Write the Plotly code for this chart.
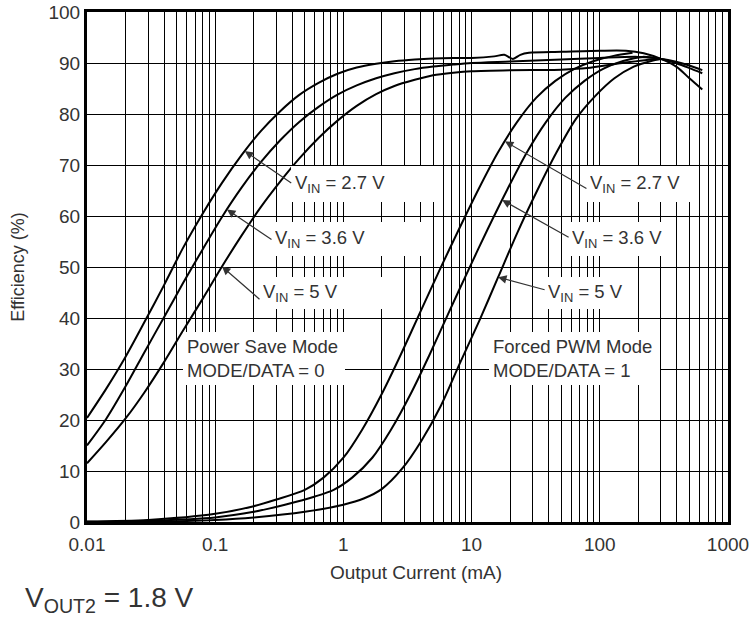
import numpy as np
import plotly.graph_objects as go

# ---------------- data ----------------
# Output current in mA, efficiency in %
# Power Save Mode (MODE/DATA = 0)
psm27_I = [0.01, 0.0141, 0.02, 0.0282, 0.04, 0.056, 0.08, 0.113, 0.16, 0.226, 0.32, 0.45, 0.64, 0.9,
           1.27, 1.8, 2.5, 3.6, 5, 7.2, 10, 15, 18, 21, 24, 28, 50, 100, 160, 220, 300, 400, 500, 630]
psm27_E = [20.4, 26.1, 32.4, 39.3, 46.5, 53.7, 60.5, 66.5, 71.9, 76.6, 80.5, 83.7, 86.1, 87.9,
           89.1, 89.85, 90.35, 90.7, 90.9, 91.0, 91.0, 91.3, 91.6, 90.8, 91.6, 92.0, 92.2, 92.4, 92.4, 91.9, 90.8, 89.2, 87.0, 84.8]

psm36_I = [0.01, 0.0141, 0.02, 0.0282, 0.04, 0.056, 0.08, 0.113, 0.16, 0.226, 0.32, 0.45, 0.64, 0.9,
           1.27, 1.8, 2.5, 3.6, 5, 7.2, 10, 20, 50, 100, 200, 300, 400, 500, 630]
psm36_E = [15, 20.2, 26.6, 33.4, 40.2, 46.8, 53.5, 59.8, 65.5, 70.5, 74.8, 78.4, 81.4, 83.8,
           85.6, 87.0, 88.0, 88.8, 89.3, 89.7, 90.0, 90.3, 90.7, 91.0, 91.2, 90.8, 89.9, 89.0, 88.0]

psm50_I = [0.01, 0.0141, 0.02, 0.0282, 0.04, 0.056, 0.08, 0.113, 0.16, 0.226, 0.32, 0.45, 0.64, 0.9,
           1.27, 1.8, 2.5, 3.6, 5, 7.2, 10, 20, 50, 80, 150, 300, 400, 500, 630]
psm50_E = [11.5, 15.7, 20.3, 25.5, 31.4, 37.5, 43.8, 50.1, 56.1, 61.7, 66.7, 71.2, 75.3, 78.7,
           81.6, 83.9, 85.5, 86.7, 87.6, 88.1, 88.4, 88.6, 88.7, 89.0, 90.0, 90.8, 90.2, 89.5, 88.6]

# Forced PWM Mode (MODE/DATA = 1)
pwm27_I = [0.01, 0.03, 0.1, 0.2, 0.3, 0.5, 0.7, 1, 1.4, 2, 2.8, 4, 5.6, 8, 11.3, 16, 22.6, 32, 45, 64, 90, 128, 180]
pwm27_E = [0.1, 0.4, 1.6, 3.1, 4.4, 6.3, 8.7, 12.6, 18.1, 25.2, 32.8, 41.3, 49.3, 57.5, 65.2, 72.4, 78.4, 83.2, 86.5, 88.9, 90.4, 91.4, 92.0]

pwm36_I = [0.01, 0.03, 0.1, 0.2, 0.35, 0.6, 0.84, 1.17, 1.68, 2.35, 3.36, 4.7, 6.7, 9.4, 13.4, 19, 26.9, 38, 54, 76, 107, 152, 215, 300]
pwm36_E = [0.05, 0.25, 0.9, 2.0, 3.4, 5.0, 6.3, 8.7, 12.6, 18.1, 25.2, 32.8, 41.3, 49.3, 57.5, 65.2, 72.4, 78.4, 83.2, 86.5, 88.9, 90.4, 91.2, 90.8]

pwm50_I = [0.01, 0.05, 0.1, 0.2, 0.5, 1, 1.44, 2.0, 2.88, 4.03, 5.76, 8.06, 11.5, 16.1, 23, 32.5, 46, 65, 92, 130, 184, 260, 300]
pwm50_E = [0.0, 0.15, 0.4, 0.9, 2.0, 3.4, 4.6, 6.5, 10.5, 15.8, 22.8, 31.0, 39.5, 48.0, 57.0, 65.0, 72.5, 79.0, 83.5, 87.0, 89.3, 90.5, 90.8]

x_tick_vals = [0.01, 0.1, 1, 10, 100, 1000]
x_tick_text = ["0.01", "0.1", "1", "10", "100", "1000"]
y_tick_vals = [0, 10, 20, 30, 40, 50, 60, 70, 80, 90, 100]

# arrow targets: (series, current at arrow tip in mA)
arrow_targets = [
    ("psm27", 0.17), ("psm36", 0.1236), ("psm50", 0.113),
    ("pwm27", 18.2), ("pwm36", 17.3), ("pwm50", 16.1),
]
series = {
    "psm27": (psm27_I, psm27_E), "psm36": (psm36_I, psm36_E), "psm50": (psm50_I, psm50_E),
    "pwm27": (pwm27_I, pwm27_E), "pwm36": (pwm36_I, pwm36_E), "pwm50": (pwm50_I, pwm50_E),
}

# ---------------- style ----------------
FONT = "Liberation Sans, Arial, sans-serif"
TXT = "#333333"
W, H = 750, 625
ML, MR, MT, MB = 87, 22, 12, 103
PW, PH = W - ML - MR, H - MT - MB


def px2paper(px, py):
    return (px - ML) / PW, (H - MB - py) / PH


fig = go.Figure()
for key, (I, E) in series.items():
    fig.add_trace(go.Scatter(
        x=I, y=E, mode="lines", hoverinfo="skip",
        line=dict(color="black", width=2, shape="spline", smoothing=0.8),
    ))

minor_vals = [m * 10.0 ** k for k in range(-2, 3) for m in range(2, 10)]

fig.update_layout(
    width=W, height=H,
    margin=dict(l=ML, r=MR, t=MT, b=MB),
    paper_bgcolor="white", plot_bgcolor="white",
    showlegend=False,
    font=dict(family=FONT, size=19, color=TXT),
)
fig.update_xaxes(
    type="log", range=[-2, 3], automargin=False,
    tickmode="array", tickvals=x_tick_vals, ticktext=x_tick_text,
    showgrid=True, gridcolor="black", gridwidth=1.4,
    minor=dict(tickmode="array", tickvals=minor_vals, showgrid=True, gridcolor="black", gridwidth=1.4, ticks=""),
    showline=True, linecolor="black", linewidth=3, mirror=True,
    ticks="", zeroline=False, ticklabelstandoff=3,
    tickfont=dict(size=19, color=TXT),
)
fig.update_yaxes(
    range=[0, 100], automargin=False, tickmode="array", tickvals=y_tick_vals,
    showgrid=True, gridcolor="black", gridwidth=1.4,
    showline=True, linecolor="black", linewidth=3, mirror=True,
    ticks="", zeroline=False,
    tickfont=dict(size=19, color=TXT),
    title=dict(text="Efficiency (%)", standoff=20, font=dict(size=18, color=TXT)),
)

# x-axis title (slightly right of centre, as in the reference)
xp, yp = px2paper(416, 572)
fig.add_annotation(
    xref="paper", yref="paper", x=xp, y=yp, xanchor="center", yanchor="middle",
    text="Output Current (mA)", showarrow=False,
    font=dict(family=FONT, size=19, color=TXT),
)

# ---------------- labels with white backgrounds ----------------
# (text, text-left px, center-y px, box width, box height)
labels = [
    ("V<sub>IN</sub> = 2.7 V", 295, 184, 136, 28),
    ("V<sub>IN</sub> = 3.6 V", 275, 239, 151, 26),
    ("V<sub>IN</sub> = 5 V", 263, 293, 134, 24),
    ("V<sub>IN</sub> = 2.7 V", 590, 184, 96, 28),
    ("V<sub>IN</sub> = 3.6 V", 572, 239, 94, 26),
    ("V<sub>IN</sub> = 5 V", 548, 293, 78, 24),
    ("Power Save Mode<br>MODE/DATA = 0", 187, 358, 154, None),
    ("Forced PWM Mode<br>MODE/DATA = 1", 493, 358, 163, None),
]
for text, tl, cy, bw, bh in labels:
    xp, yp = px2paper(tl - 4, cy)
    kw = dict(width=bw)
    if bh is not None:
        kw["height"] = bh
    fig.add_annotation(
        xref="paper", yref="paper", x=xp, y=yp, xanchor="left", yanchor="middle",
        text=text, showarrow=False, align="left", valign="middle",
        bgcolor="white", borderpad=4, borderwidth=0,
        font=dict(family=FONT, size=18.5, color=TXT), **kw,
    )

# arrows (tail pixel offsets relative to the tip)
arrow_offsets = [(48, 33), (46, 31), (39, 34), (83, 48), (68, 38), (48, 13)]
for (key, i_tip), (dx, dy) in zip(arrow_targets, arrow_offsets):
    I, E = series[key]
    e_tip = float(np.interp(np.log10(i_tip), np.log10(I), E))
    fig.add_annotation(
        xref="x", yref="y", x=np.log10(i_tip), y=e_tip,
        ax=dx, ay=dy, text="", showarrow=True,
        arrowhead=2, arrowsize=1.4, arrowwidth=1.2, arrowcolor="#333333", standoff=0,
    )

# bottom caption
xp, yp = px2paper(23, 599)
fig.add_annotation(
    xref="paper", yref="paper", x=xp, y=yp, xanchor="left", yanchor="middle",
    text="V<sub>OUT2</sub> = 1.8 V", showarrow=False,
    font=dict(family=FONT, size=28, color=TXT),
)

fig.write_html("out.html")
